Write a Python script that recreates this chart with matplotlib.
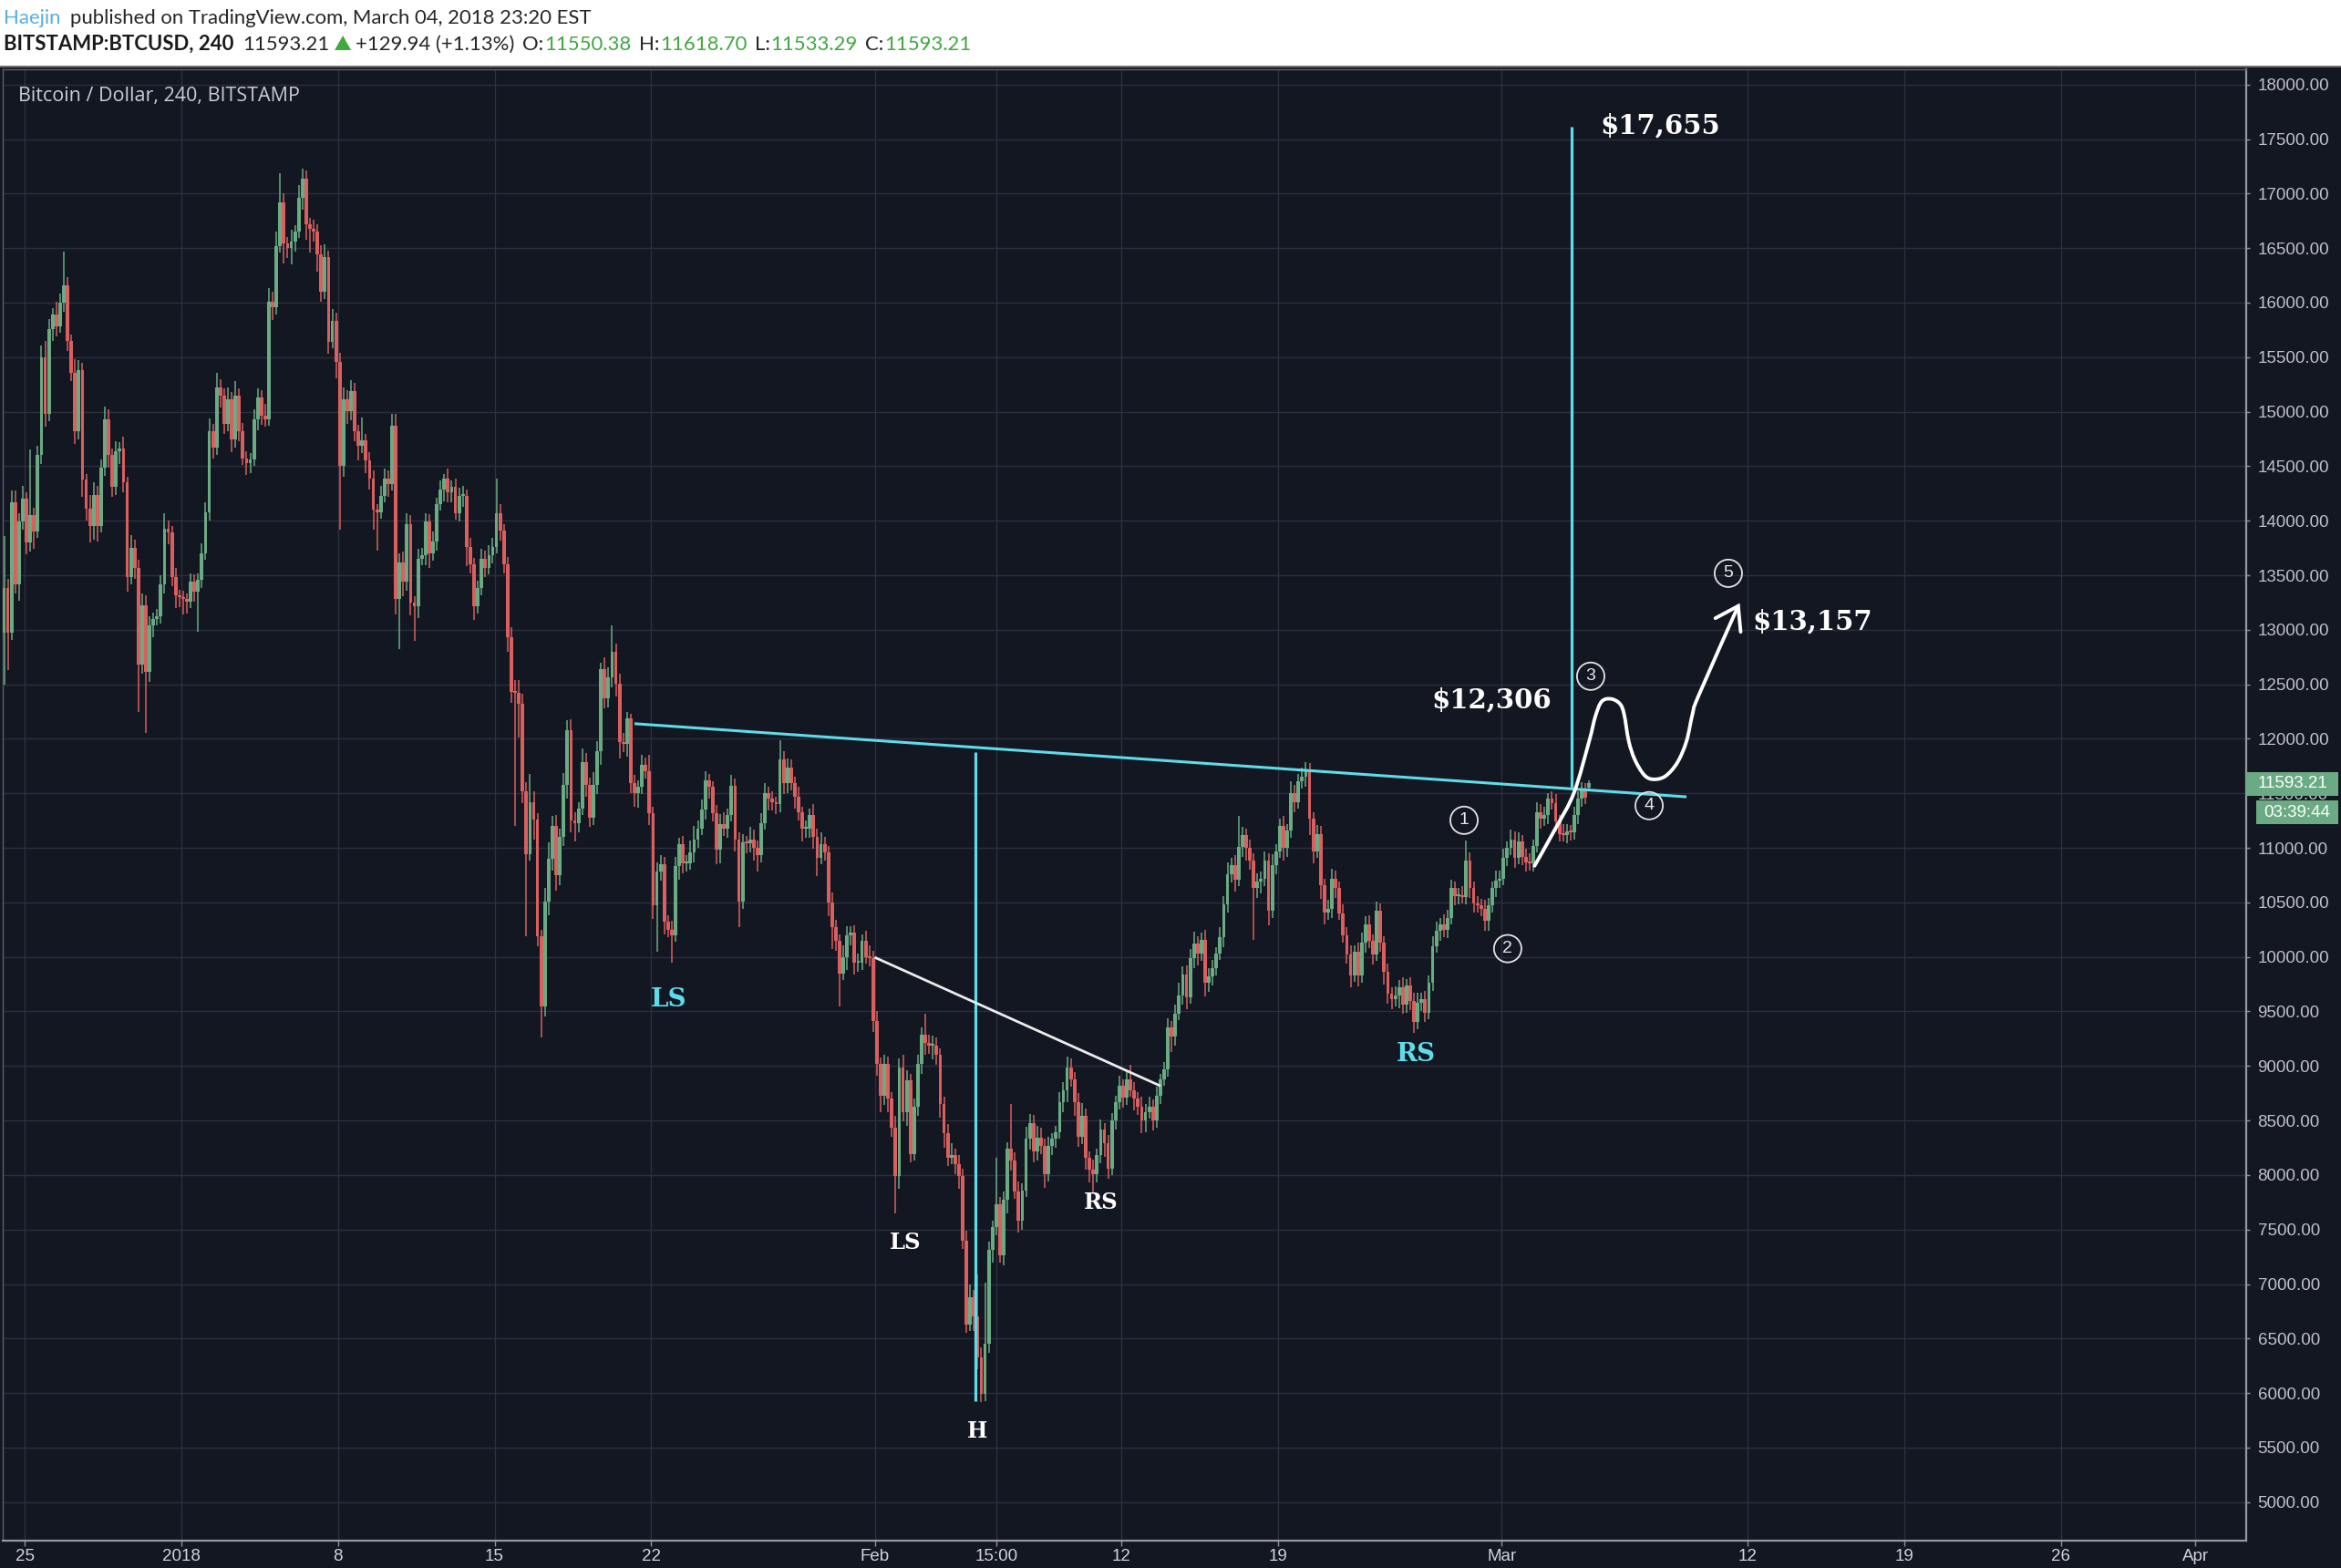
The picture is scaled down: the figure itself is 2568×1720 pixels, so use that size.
import datetime as dt
import numpy as np
import pandas as pd
import matplotlib
matplotlib.use("Agg")
import matplotlib.pyplot as plt
import matplotlib.dates as mdates
from matplotlib.path import Path
from matplotlib.patches import PathPatch, Rectangle, Polygon

# ---------------------------------------------------------------- data
# BITSTAMP:BTCUSD 4h candles, 2017-12-24 00:00 .. 2018-03-04 20:00 (EST)
first_open = 12970.0
last_open = 11550.38

closes = [
    13380, 12970, 14170, 13420, 13990, 14200,   # Dec 24
    13800, 14050, 13900, 14600, 15500, 14980,   # Dec 25
    15760, 15890, 15780, 16000, 16160, 15650,   # Dec 26
    15360, 14820, 15380, 14380, 14110, 13950,   # Dec 27
    14240, 13950, 14490, 14930, 14600, 14310,   # Dec 28
    14640, 14660, 14350, 13480, 13750, 13570,   # Dec 29
    12680, 13225, 12610, 13040, 13100, 13120,   # Dec 30
    13420, 13930, 13895, 13480, 13320, 13297,   # Dec 31
    13280, 13261, 13440, 13350, 13460, 13700,   # Jan 1
    14080, 14820, 14670, 15220, 15150, 14890,   # Jan 2
    15110, 14750, 15150, 14820, 14570, 14530,   # Jan 3
    14560, 14930, 15130, 14960, 14930, 16010,   # Jan 4
    15960, 16520, 16920, 16540, 16500, 16560,   # Jan 5
    16650, 16960, 17140, 16720, 16680, 16650,   # Jan 6
    16440, 16100, 16415, 15640, 15830, 15460,   # Jan 7
    14500, 15110, 15005, 15190, 14820, 14690,   # Jan 8
    14740, 14550, 14390, 14100, 14080, 14230,   # Jan 9
    14390, 14340, 14870, 13280, 13620, 13440,   # Jan 10
    13970, 13250, 13220, 13650, 13680, 13990,   # Jan 11
    13700, 13810, 14150, 14290, 14390, 14260,   # Jan 12
    14310, 14070, 14230, 14230, 13760, 13600,   # Jan 13
    13220, 13380, 13650, 13570, 13680, 13760,   # Jan 14
    14070, 13910, 13600, 12930, 12430, 12420,   # Jan 15
    12320, 11520, 10940, 11420, 11260, 10190,   # Jan 16
    9550, 10510, 10900, 11200, 10750, 11100,    # Jan 17
    11575, 12080, 11255, 11230, 11360, 11790,   # Jan 18
    11575, 11280, 11575, 11890, 12640, 12370,   # Jan 19
    12560, 12800, 12505, 11970, 11950, 12190,   # Jan 20
    11590, 11500, 11560, 11760, 11700, 11320,   # Jan 21
    10470, 10780, 10850, 10320, 10250, 10200,   # Jan 22
    10830, 11030, 10860, 10860, 10960, 11080,   # Jan 23
    11180, 11350, 11620, 11560, 11320, 10980,   # Jan 24
    11220, 11180, 11300, 11570, 11080, 10510,   # Jan 25
    11050, 11040, 11080, 11000, 10930, 11230,   # Jan 26
    11500, 11450, 11420, 11400, 11810, 11590,   # Jan 27
    11740, 11590, 11470, 11330, 11180, 11180,   # Jan 28
    11300, 11100, 10910, 11030, 10960, 10500,   # Jan 29
    10270, 10150, 9850, 10000, 10200, 10220,    # Jan 30
    9950, 9950, 10150, 10000, 9990, 9410,       # Jan 31
    9020, 8730, 9020, 8700, 8430, 7990,         # Feb 1
    8990, 8580, 8870, 8190, 8630, 9020,         # Feb 2
    9290, 9210, 9190, 9190, 9100, 8650,         # Feb 3
    8380, 8160, 8180, 8100, 7990, 7400,         # Feb 4
    6630, 6880, 6700, 6330, 5990, 6455,         # Feb 5
    7310, 7520, 7730, 7260, 7770, 8240,         # Feb 6
    8130, 7850, 7580, 7860, 8330, 8480,         # Feb 7
    8220, 8340, 8270, 8010, 8270, 8330,         # Feb 8
    8390, 8670, 8780, 8990, 8880, 8670,         # Feb 9
    8350, 8540, 8160, 8050, 8010, 8180,         # Feb 10
    8420, 8290, 8060, 8500, 8670, 8820,         # Feb 11
    8710, 8880, 8780, 8700, 8630, 8500,         # Feb 12
    8580, 8630, 8500, 8730, 8880, 8970,         # Feb 13
    9350, 9270, 9480, 9650, 9840, 9630,         # Feb 14
    9990, 10120, 10030, 10160, 9760, 9820,      # Feb 15
    9900, 10030, 10180, 10480, 10760, 10840,    # Feb 16
    10710, 11010, 11120, 11000, 10880, 10630,   # Feb 17
    10690, 10720, 10880, 10420, 10840, 10970,   # Feb 18
    11200, 11000, 11160, 11500, 11420, 11610,   # Feb 19
    11650, 11710, 11270, 10970, 11130, 10660,   # Feb 20
    10410, 10440, 10720, 10630, 10400, 10200,   # Feb 21
    10020, 9830, 10050, 9830, 10130, 10300,     # Feb 22
    10150, 10020, 10420, 10130, 9860, 9660,     # Feb 23
    9610, 9650, 9720, 9560, 9740, 9600,         # Feb 24
    9400, 9580, 9610, 9490, 9760, 10100,        # Feb 25
    10240, 10300, 10250, 10360, 10630, 10560,   # Feb 26
    10560, 10550, 10880, 10630, 10490, 10470,   # Feb 27
    10440, 10330, 10470, 10630, 10700, 10720,   # Feb 28
    10910, 11000, 11080, 10910, 11060, 10920,   # Mar 1
    10870, 10860, 11020, 11330, 11270, 11300,   # Mar 2
    11450, 11410, 11240, 11130, 11120, 11150,   # Mar 3
    11140, 11300, 11450, 11540, 11463.27, 11593.21,  # Mar 4
]

# wick extension above max(open, close) and below min(open, close)
upper_wick = [
    480, 90, 110, 105, 80, 120,  60, 600, 70, 90, 110, 150,
    90, 60, 120, 80, 310, 70,  60, 120, 90, 70, 50, 130,
    110, 80, 70, 120, 90, 60,  90, 60, 110, 50, 120, 80,
    70, 110, 90, 80, 60, 70,  80, 140, 70, 60, 90, 50,
    60, 50, 80, 70, 60, 90,  90, 120, 70, 140, 80, 60,
    110, 70, 130, 60, 80, 70,  60, 90, 80, 70, 110, 120,
    90, 130, 270, 80, 60, 110,  60, 120, 90, 70, 60, 80,
    70, 90, 120, 60, 110, 80,  80, 110, 90, 100, 70, 60,
    210, 60, 80, 70, 50, 90,  90, 70, 110, 110, 80, 100,
    100, 80, 60, 90, 70, 80,  70, 90, 60, 80, 40, 90,
    60, 80, 70, 90, 60, 80,  60, 70, 90, 80, 100, 80,
    320, 80, 60, 70, 90, 110,  120, 90, 80, 260, 100, 60,
    60, 120, 150, 90, 100, 80,  110, 90, 100, 70, 60, 120,
    80, 70, 120, 90, 60, 110,  100, 240, 70, 90, 80, 60,
    40, 80, 60, 90, 70, 150,  60, 90, 80, 70, 60, 80,
    90, 60, 80, 70, 110, 120,  70, 90, 80, 60, 50, 70,
    90, 110, 60, 100, 70, 60,  80, 60, 110, 90, 70, 90,
    90, 60, 70, 50, 175, 80,  80, 70, 60, 90, 50, 70,
    60, 100, 80, 110, 70, 60,  90, 70, 60, 110, 80, 60,
    70, 80, 60, 90, 110, 70,  90, 60, 80, 70, 60, 110,
    80, 110, 90, 60, 70, 80,  60, 190, 80, 90, 70, 60,
    70, 90, 110, 60, 80, 70,  90, 120, 70, 390, 90, 560,
    80, 60, 430, 70, 80, 60,  410, 80, 90, 60, 110, 80,
    70, 110, 90, 60, 80, 50,  60, 90, 70, 100, 80, 60,
    80, 120, 70, 60, 90, 60,  90, 60, 80, 70, 60, 90,
    60, 80, 130, 70, 60, 90,  70, 90, 60, 80, 50, 70,
    90, 60, 80, 110, 70, 80,  80, 110, 70, 60, 90, 80,
    70, 60, 90, 80, 110, 70,  90, 280, 70, 60, 80, 70,
    80, 60, 90, 70, 100, 60,  70, 90, 60, 110, 80, 70,
    90, 80, 70, 60, 80, 70,  60, 80, 90, 70, 60, 80,
    70, 90, 60, 80, 90, 70,  80, 60, 90, 70, 60, 80,
    60, 80, 70, 90, 60, 70,  70, 90, 60, 80, 70, 90,
    80, 60, 90, 70, 80, 60,  70, 90, 190, 80, 60, 70,
    60, 80, 70, 60, 90, 70,  80, 60, 90, 70, 80, 60,
    70, 80, 60, 90, 70, 80,  50, 70, 80, 60, 90, 70,
    60, 80, 70, 60, 50, 25.49,
]
lower_wick = [
    470, 340, 60, 90, 150, 70,  110, 80, 160, 60, 80, 120,
    70, 110, 90, 60, 80, 90,  80, 120, 70, 160, 110, 150,
    120, 140, 60, 80, 110, 90,  70, 120, 90, 130, 60, 100,
    430, 80, 560, 90, 110, 60,  60, 90, 110, 80, 120, 90,
    140, 110, 60, 90, 370, 80,  60, 80, 100, 70, 110, 90,
    70, 120, 80, 90, 60, 110,  90, 60, 100, 80, 70, 60,
    120, 70, 60, 180, 90, 150,  90, 60, 110, 140, 220, 90,
    160, 90, 70, 110, 60, 150,  585, 100, 120, 80, 90, 140,
    70, 110, 100, 180, 350, 60,  60, 120, 60, 140, 455, 130,
    80, 120, 320, 110, 60, 90,  130, 70, 80, 60, 110, 90,
    90, 60, 80, 100, 180, 80,  130, 70, 60, 90, 60, 70,
    60, 90, 80, 130, 100, 1220,  310, 110, 750, 60, 180, 90,
    290, 100, 130, 110, 140, 90,  80, 120, 110, 170, 90, 60,
    110, 90, 70, 80, 130, 90,  80, 90, 120, 150, 70, 110,
    90, 120, 130, 70, 60, 110,  120, 420, 80, 110, 70, 250,
    60, 120, 90, 80, 60, 90,  80, 60, 90, 110, 80, 130,
    120, 70, 90, 60, 110, 240,  70, 90, 80, 120, 150, 60,
    60, 110, 80, 90, 70, 100,  90, 60, 110, 80, 120, 90,
    90, 110, 170, 60, 80, 130,  200, 90, 300, 60, 120, 90,
    110, 90, 70, 60, 80, 100,  110, 150, 90, 120, 80, 340,
    120, 90, 130, 70, 60, 90,  90, 110, 80, 130, 90, 120,
    130, 80, 60, 90, 120, 80,  80, 60, 130, 110, 70, 60,
    90, 110, 70, 60, 90, 120,  90, 70, 110, 80, 60, 100,
    100, 90, 80, 130, 70, 90,  80, 60, 90, 110, 70, 130,
    90, 70, 110, 120, 170, 80,  70, 120, 90, 60, 80, 70,
    90, 70, 60, 110, 80, 120,  110, 60, 90, 70, 80, 60,
    70, 140, 80, 60, 90, 110,  60, 90, 110, 70, 120, 80,
    80, 70, 60, 90, 70, 80,  110, 60, 90, 120, 80, 470,
    90, 110, 70, 130, 60, 80,  60, 120, 80, 70, 90, 60,
    70, 90, 150, 110, 60, 130,  110, 70, 80, 90, 60, 70,
    80, 110, 60, 100, 70, 90,  70, 90, 60, 80, 110, 90,
    90, 60, 120, 80, 70, 90,  100, 60, 80, 90, 60, 70,
    60, 90, 70, 80, 60, 90,  80, 60, 70, 90, 80, 60,
    70, 90, 90, 60, 80, 70,  60, 80, 70, 90, 60, 80,
    90, 70, 80, 60, 90, 70,  80, 60, 90, 70, 60, 80,
    70, 60, 80, 70, 60, 17.09,
]

price_ticks = list(range(5000, 18001, 500))
tick_dates = ["2017-12-25", "2018-01-01", "2018-01-08", "2018-01-15", "2018-01-22",
              "2018-02-01", "2018-02-06 10:00", "2018-02-12", "2018-02-19", "2018-03-01",
              "2018-03-12", "2018-03-19", "2018-03-26", "2018-04-01"]
tick_labels = ["25", "2018", "8", "15", "22", "Feb", "15:00", "12", "19", "Mar",
               "12", "19", "26", "Apr"]

# drawings: x in days after 2017-12-25 00:00, y in USD
neck_days, neck_prices = [27.25, 74.26], [12139, 11468]
head_days, head_prices = [42.48, 42.48], [11880, 5927]
target_days, target_prices = [69.12, 69.12], [17615, 11545]
inner_days, inner_prices = [38.03, 50.70], [9992, 8822]
path_days = [67.47, 68.42, 69.23, 69.91, 70.18, 70.46, 70.86, 71.27, 71.47, 71.68,
             71.95, 72.36, 72.76, 73.31, 73.85, 74.26, 74.53, 74.80, 76.57]
path_prices = [10835, 11183, 11504, 11978, 12200, 12340, 12367, 12325, 12228, 11978,
               11810, 11671, 11629, 11657, 11782, 11978, 12228, 12396, 13218]
wing_days, wing_prices = [75.55, 76.57, 76.68], [13106, 13218, 12981]

labels = [  # text, day, price, colour, size, ha
    ("LS", 28.76, 9605, "#5fdcea", 20, "center"),
    ("LS", 39.35, 7382, "#ffffff", 17.5, "center"),
    ("H", 42.57, 5651, "#ffffff", 17, "center"),
    ("RS", 48.10, 7749, "#ffffff", 17.5, "center"),
    ("RS", 62.16, 9104, "#5fdcea", 20, "center"),
    ("$17,655", 70.39, 17624, "#ffffff", 21, "left"),
    ("$12,306", 68.23, 12356, "#ffffff", 21, "right"),
    ("$13,157", 77.19, 13075, "#ffffff", 21, "left"),
]
wave_marks = ["1", "2", "3", "4", "5"]
wave_days = [64.32, 66.27, 69.98, 72.59, 76.13]
wave_prices = [11253, 10076, 12574, 11387, 13518]

# ---------------------------------------------------------------- figure
W, H = 2568, 1720
BG = "#131722"
UP, DOWN = "#6aab84", "#d9605f"
CYAN = "#5fdcea"
GRID = "#2c303d"
fig = plt.figure(figsize=(W / 100, H / 100), dpi=100)
fig.patch.set_facecolor(BG)

# header band
fig.patches.append(Rectangle((0, 1 - 72 / H), 1, 72 / H, transform=fig.transFigure,
                             facecolor="white", edgecolor="none", zorder=0))
fig.patches.append(Rectangle((0, 1 - 74 / H), 1, 2.5 / H, transform=fig.transFigure,
                             facecolor="#6f6f6f", edgecolor="none", zorder=0))

ax = fig.add_axes([3 / W, (H - 1690) / H, (2464 - 3) / W, (1690 - 76) / H])
ax.set_facecolor(BG)

base = mdates.date2num(dt.datetime(2017, 12, 25))
times = pd.date_range("2017-12-24 02:00", periods=len(closes), freq="4h")
x = mdates.date2num(times.to_pydatetime())
c = np.array(closes, dtype=float)
o = np.concatenate([[first_open], c[:-1]])
o[-1] = last_open
top = np.maximum(o, c)
bot = np.minimum(o, c)
hi = top + np.array(upper_wick, dtype=float)
lo = bot - np.array(lower_wick, dtype=float)
up = c >= o
cols = np.where(up, UP, DOWN)

ax.vlines(x, lo, hi, colors=cols, linewidth=1.1, zorder=3)
ax.bar(x, np.maximum(top - bot, 16), bottom=bot, width=0.155, color=cols,
       linewidth=0, zorder=4)

ax.set_xlim(base - 0.978, base + 99.27)
ax.set_ylim(4647, 18140)

# grid / ticks
ax.set_yticks(price_ticks)
ax.set_yticklabels([f"{p:.2f}" for p in price_ticks])
tick_x = [mdates.date2num(pd.Timestamp(s).to_pydatetime()) for s in tick_dates]
ax.set_xticks(tick_x)
ax.set_xticklabels(tick_labels)
ax.grid(True, color=GRID, linewidth=1.0, zorder=0)
ax.set_axisbelow(True)
ax.yaxis.tick_right()
ax.tick_params(axis="y", colors="#8f929b", labelcolor="#bfc2ca", labelsize=13.5,
               length=3, width=1, pad=6)
ax.tick_params(axis="x", colors="#8f929b", labelcolor="#d1d4dc", labelsize=13.5,
               length=4.5, width=1, pad=2)
for lab in ax.get_xticklabels() + ax.get_yticklabels():
    lab.set_family(["Liberation Sans", "DejaVu Sans"])
for side in ["left", "top"]:
    ax.spines[side].set_color("#5d606b")
    ax.spines[side].set_linewidth(1.0)
for side in ["right", "bottom"]:
    ax.spines[side].set_color("#9598a1")
    ax.spines[side].set_linewidth(1.6)


def dx(days):
    return [base + d for d in days]


# drawings
ax.plot(dx(neck_days), neck_prices, color=CYAN, lw=2.2, zorder=6, solid_capstyle="butt")
ax.plot(dx(head_days), head_prices, color=CYAN, lw=2.3, zorder=6, solid_capstyle="butt")
ax.plot(dx(target_days), target_prices, color=CYAN, lw=2.3, zorder=6, solid_capstyle="butt")
ax.plot(dx(inner_days), inner_prices, color="#ececec", lw=2.0, zorder=6)

# smooth hand-drawn forecast path (Catmull-Rom -> cubic Bezier)
P = np.column_stack([dx(path_days), path_prices])
verts = [tuple(P[0])]
codes = [Path.MOVETO]
n = len(P)
for i in range(n - 1):
    p0 = P[max(i - 1, 0)]
    p1 = P[i]
    p2 = P[i + 1]
    p3 = P[min(i + 2, n - 1)]
    c1 = p1 + (p2 - p0) / 6.0
    c2 = p2 - (p3 - p1) / 6.0
    verts += [tuple(c1), tuple(c2), tuple(p2)]
    codes += [Path.CURVE4] * 3
ax.add_patch(PathPatch(Path(verts, codes), facecolor="none", edgecolor="white",
                       lw=2.8, zorder=7, capstyle="round", joinstyle="round"))
ax.plot(dx(wing_days), wing_prices, color="white", lw=2.8, zorder=7,
        solid_capstyle="round", solid_joinstyle="miter")

for txt, d, p, col, size, ha in labels:
    ax.text(base + d, p, txt, color=col, fontsize=size, ha=ha, va="center",
            family="DejaVu Serif", weight="bold", zorder=8)

ax.scatter(dx(wave_days), wave_prices, s=470, facecolors="none", edgecolors="#e4e4e4",
           linewidths=1.3, zorder=8)
for m, d, p in zip(wave_marks, wave_days, wave_prices):
    ax.text(base + d, p, m, color="#e8e8e8", fontsize=14, ha="center", va="center",
            family=["Liberation Sans", "DejaVu Sans"], zorder=9)

# chart caption
fig.text(20 / W, 1 - 105 / H, "Bitcoin / Dollar, 240, BITSTAMP", color="#c9ccd4",
         fontsize=15.5, family=["Open Sans", "DejaVu Sans"], va="center", ha="left")

# last price labels on the price scale
fig.patches.append(Rectangle((2464 / W, 1 - 873 / H), 101 / W, 26 / H,
                             transform=fig.transFigure, facecolor=UP, edgecolor="none"))
fig.patches.append(Rectangle((2475 / W, 1 - 904 / H), 90 / W, 26 / H,
                             transform=fig.transFigure, facecolor=UP, edgecolor="none"))
fig.text(2515 / W, 1 - 860 / H, "11593.21", color="white", fontsize=13.5,
         family=["Liberation Sans", "DejaVu Sans"], ha="center", va="center")
fig.text(2520 / W, 1 - 891 / H, "03:39:44", color="white", fontsize=13.5,
         family=["Liberation Sans", "DejaVu Sans"], ha="center", va="center")

# header text
R = fig.canvas.get_renderer()
HF = ["Lato", "DejaVu Sans"]


def text_w(s, size, weight="normal"):
    t = fig.text(0, 0, s, fontsize=size, family=HF, weight=weight)
    w = t.get_window_extent(R).width
    t.remove()
    return w


line1 = "published on TradingView.com, March 04, 2018 23:20 EST"
hs = 15.0 * 572.0 / text_w(line1, 15.0)
DARK, BLUE, GREEN = "#262626", "#5aaee0", "#3fa83f"
fig.text(3.5 / W, 1 - 26 / H, "Haejin", color=BLUE, fontsize=hs, family=HF,
         va="baseline")
fig.text(77 / W, 1 - 26 / H, line1, color=DARK, fontsize=hs, family=HF, va="baseline")

# line 2: runs placed one after another (text, colour, weight, gap after in px)
runs2 = [("BITSTAMP:BTCUSD, 240", "#1a1a1a", "bold", 10),
         ("11593.21", DARK, "normal", 6),
         ("TRI", GREEN, "normal", 5),
         ("+129.94 (+1.13%)", DARK, "normal", 9),
         ("O:", DARK, "normal", 1), ("11550.38", GREEN, "normal", 8),
         ("H:", DARK, "normal", 1), ("11618.70", GREEN, "normal", 8),
         ("L:", DARK, "normal", 1), ("11533.29", GREEN, "normal", 8),
         ("C:", DARK, "normal", 1), ("11593.21", GREEN, "normal", 0)]
xc = 3.5
for s, col, wt, gap in runs2:
    if s == "TRI":
        fig.patches.append(Polygon([(xc / W, 1 - 55 / H), ((xc + 18) / W, 1 - 55 / H),
                                    ((xc + 9) / W, 1 - 39 / H)], closed=True,
                                   transform=fig.transFigure, facecolor=GREEN,
                                   edgecolor="none"))
        xc += 18 + gap
        continue
    fig.text(xc / W, 1 - 55 / H, s, color=col, fontsize=hs, family=HF, weight=wt,
             va="baseline")
    xc += text_w(s, hs, wt) + gap

fig.savefig("out.png", dpi=100, facecolor=BG)
